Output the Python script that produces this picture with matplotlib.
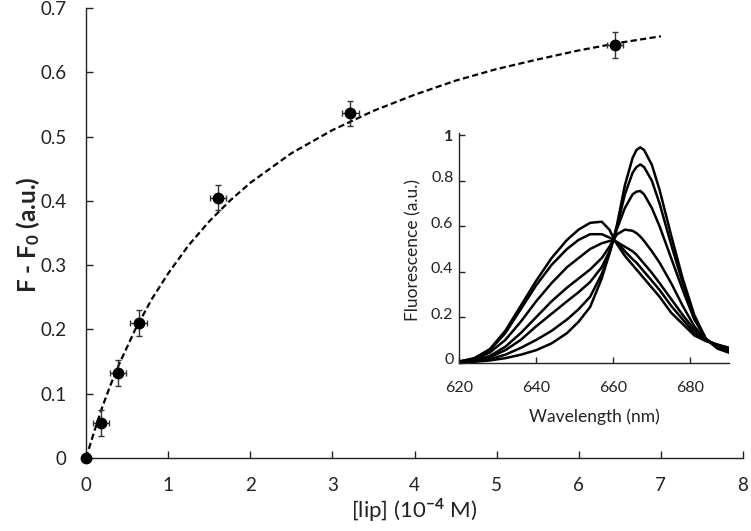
import matplotlib
matplotlib.use("Agg")
import matplotlib.pyplot as plt
import matplotlib.transforms as mtransforms

plt.rcParams["font.family"] = ["Lato", "DejaVu Sans"]
plt.rcParams["mathtext.fontset"] = "custom"
plt.rcParams["mathtext.rm"] = "Lato"
plt.rcParams["mathtext.it"] = "Lato:italic"
plt.rcParams["mathtext.bf"] = "Lato:bold"

# binding data, [lip] in 1e-4 M
lip_conc = [0, 0.18, 0.39, 0.64, 1.61, 3.22, 6.44]
delta_f = [0, 0.054, 0.132, 0.210, 0.405, 0.536, 0.642]
lip_err = [0, 0.1, 0.1, 0.1, 0.1, 0.1, 0.1]
delta_f_err = [0, 0.02, 0.02, 0.02, 0.02, 0.02, 0.02]

# dashed fit
fit_x = [0, 0.1, 0.2, 0.3, 0.4, 0.6, 0.8, 1.0, 1.25, 1.5, 1.75, 2.0, 2.5,
         3.0, 3.5, 4.0, 4.5, 5.0, 5.5, 6.0, 6.5, 7.0]
fit_y = [0, 0.041, 0.080, 0.114, 0.145, 0.200, 0.247, 0.287, 0.331, 0.368,
         0.400, 0.428, 0.474, 0.510, 0.540, 0.565, 0.587, 0.605, 0.620,
         0.634, 0.646, 0.656]

# inset spectra
wavelength = [620, 624, 628, 632, 636, 640, 644, 648, 651, 654, 657, 659, 660,
              661, 663, 665, 666, 667, 668, 670, 672, 675, 678, 681, 684,
              687, 690]
spec_1 = [0.001, 0.004, 0.01, 0.02, 0.035, 0.055, 0.085, 0.13, 0.18, 0.245,
          0.37, 0.48, 0.54, 0.61, 0.78, 0.90, 0.935, 0.947, 0.935, 0.87, 0.76,
          0.56, 0.37, 0.21, 0.105, 0.062, 0.044]
spec_2 = [0.001, 0.006, 0.016, 0.035, 0.065, 0.10, 0.14, 0.19, 0.235, 0.29,
          0.39, 0.48, 0.54, 0.60, 0.74, 0.835, 0.86, 0.872, 0.86, 0.80, 0.70,
          0.52, 0.35, 0.20, 0.105, 0.065, 0.047]
spec_3 = [0.002, 0.008, 0.024, 0.055, 0.10, 0.16, 0.215, 0.27, 0.31, 0.355,
          0.42, 0.49, 0.54, 0.59, 0.68, 0.74, 0.752, 0.755, 0.74, 0.68, 0.60,
          0.46, 0.32, 0.19, 0.105, 0.07, 0.05]
spec_4 = [0.003, 0.01, 0.03, 0.07, 0.13, 0.20, 0.27, 0.33, 0.37, 0.41, 0.46,
          0.51, 0.54, 0.565, 0.585, 0.58, 0.57, 0.555, 0.535, 0.49, 0.44,
          0.35, 0.25, 0.16, 0.10, 0.075, 0.055]
spec_5 = [0.004, 0.015, 0.045, 0.10, 0.18, 0.27, 0.35, 0.42, 0.46, 0.50,
          0.525, 0.535, 0.535, 0.53, 0.51, 0.49, 0.475, 0.455, 0.435, 0.395,
          0.35, 0.28, 0.21, 0.145, 0.10, 0.078, 0.058]
spec_6 = [0.005, 0.018, 0.055, 0.13, 0.235, 0.34, 0.43, 0.50, 0.54, 0.565,
          0.565, 0.55, 0.54, 0.53, 0.49, 0.455, 0.44, 0.42, 0.40, 0.36, 0.32,
          0.25, 0.19, 0.13, 0.097, 0.078, 0.062]
spec_7 = [0.005, 0.02, 0.06, 0.14, 0.25, 0.36, 0.46, 0.54, 0.585, 0.615,
          0.62, 0.585, 0.55, 0.52, 0.47, 0.43, 0.41, 0.39, 0.37, 0.33, 0.29,
          0.22, 0.17, 0.12, 0.095, 0.08, 0.066]
spectra = [spec_1, spec_2, spec_3, spec_4, spec_5, spec_6, spec_7]

main_xticks = [0, 1, 2, 3, 4, 5, 6, 7, 8]
main_yticks = [0, 0.1, 0.2, 0.3, 0.4, 0.5, 0.6, 0.7]
main_yticklabels = ["0", "0.1", "0.2", "0.3", "0.4", "0.5", "0.6", "0.7"]
inset_xticks = [620, 640, 660, 680]
inset_yticks = [0, 0.2, 0.4, 0.6, 0.8, 1.0]
inset_yticklabels = ["0", "0.2", "0.4", "0.6", "0.8", "1"]

W, H = 751, 531
fig = plt.figure(figsize=(W / 100, H / 100), dpi=100)

# main plot
ax = fig.add_axes([86 / W, 1 - 458 / H, 657 / W, 450 / H])
ax.plot(fit_x, fit_y, color="black", lw=1.6, ls=(0, (2.8, 1.5)))
ax.errorbar(lip_conc, delta_f, xerr=lip_err, yerr=delta_f_err, fmt="o",
            color="black", ms=7.5, ecolor="#333333", elinewidth=1,
            capsize=2.5, capthick=1, clip_on=False, zorder=3)

ax.set_xlim(0, 8)
ax.set_ylim(0, 0.7)
ax.set_xticks(main_xticks)
ax.set_yticks(main_yticks)
ax.set_yticklabels(main_yticklabels)
for side in ["top", "right"]:
    ax.spines[side].set_visible(False)
for side in ["left", "bottom"]:
    ax.spines[side].set_linewidth(1.0)
    ax.spines[side].set_color("#222222")
ax.tick_params(axis="both", direction="in", length=5, width=1,
               labelsize=13.5, colors="#222222")
ax.tick_params(axis="x", pad=14)
ax.tick_params(axis="y", pad=14)

fig.text(28 / W, 1 - 235 / H, r"F - F$_{\mathbf{0}}$ (a.u.)", rotation=90,
         ha="center", va="center", fontsize=17.5, fontweight="bold",
         color="#222222")
fig.text(414 / W, 1 - 510 / H, r"[lip] (10$^{\mathbf{-4}}$ M)", ha="center",
         va="center", fontsize=16, color="#222222")

# inset spectra
ins = fig.add_axes([459 / W, 1 - 362.7 / H, 270 / W, 229.7 / H])
for spec in spectra:
    ins.plot(wavelength, spec, color="black", lw=1.8)

ins.set_xlim(620, 690)
ins.set_ylim(0, 1.01)
ins.set_xticks(inset_xticks)
ins.set_yticks(inset_yticks)
ins.set_yticklabels(inset_yticklabels)
ins.get_yticklabels()[-1].set_fontweight("bold")
ins.patch.set_alpha(0)
for side in ["top", "right"]:
    ins.spines[side].set_visible(False)
for side in ["left", "bottom"]:
    ins.spines[side].set_linewidth(1.0)
    ins.spines[side].set_color("#222222")
ins.tick_params(axis="both", direction="in", length=4, width=1,
                labelsize=11.5, colors="#222222")
ins.tick_params(axis="x", pad=13)
ins.tick_params(axis="y", pad=4)

# inset y labels sit a little above their ticks in the original
up = mtransforms.ScaledTranslation(0, 4 / 100, fig.dpi_scale_trans)
for lab in ins.get_yticklabels()[:-1]:
    lab.set_transform(lab.get_transform() + up)

fig.text(413 / W, 1 - 250 / H, "Fluorescence (a.u.)", rotation=90,
         ha="center", va="center", fontsize=12.5, color="#222222")
fig.text(594 / W, 1 - 417 / H, "Wavelength (nm)", ha="center", va="center",
         fontsize=12.5, color="#222222")

fig.savefig("out.png", dpi=100)
